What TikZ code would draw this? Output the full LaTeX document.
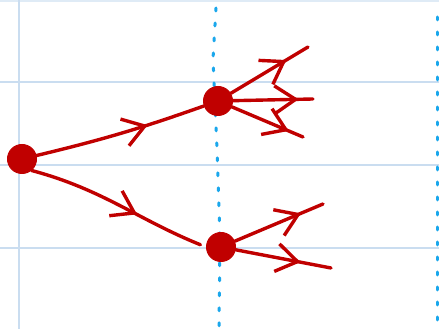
\documentclass[tikz,border=0pt]{standalone}
\usetikzlibrary{arrows.meta,decorations.markings}
\definecolor{skRed}{HTML}{C00000}
\definecolor{skDot}{HTML}{1AA7EC}
\definecolor{skRule}{HTML}{CADDF0}
\tikzset{
 sketch/.style={line cap=round,line join=round,x=1pt,y=1pt},
 state/.style={circle,draw=skRed,fill=skRed,line width=1pt,inner sep=0pt,minimum size=29pt},
 rule/.style={draw=skRule,line width=1.3pt},
 dotline/.style={draw=skDot,line width=3pt,dash pattern=on 3pt off 12pt},
 branch/.style={draw=skRed,line width=3.4pt,postaction={decorate},
   decoration={markings,mark=at position #1 with {\arrow{Straight Barb[length=21pt,width=28pt]}}}},
 branch/.default=0.72
}

\begin{document}
\begin{tikzpicture}[sketch]
 \fill[white] (0,0) rectangle (439,329);
 \useasboundingbox (0,0) rectangle (439,329);
 \draw[rule,skRule!60] (0,328) -- (439,328);
 \draw[rule] (0,247) -- (439,247); \draw[rule] (0,164) -- (439,164);
 \draw[rule] (0,81) -- (439,81); \draw[rule] (19,0) -- (19,329);
 \draw[dotline] (216,321) -- (213,270) -- (217,180) -- (220,90) -- (219,0);
 \draw[dotline] (437,312) -- (437,0);
 \node[state] (A) at (22,170) {};
 \node[state] (B) at (218,228) {};
 \node[state] (C) at (221,82) {};
 \coordinate (b1) at (308,282); \coordinate (b2) at (313,230);
 \coordinate (b3) at (303,192);
 \coordinate (c1) at (323,125); \coordinate (c2) at (331,61);
 \draw[branch=0.66] (A) to[bend right=3] (B);
 \draw[branch=0.6,shorten >=6pt] (A.-50) to[out=-15,in=158] (C.west);
 \draw[branch=0.72] (B) -- (b1); \draw[branch=0.82] (B) -- (b2);
 \draw[branch=0.8] (B) -- (b3);
 \draw[branch=0.75] (C) -- (c1); \draw[branch=0.68] (C) -- (c2);
\end{tikzpicture}
\end{document}
